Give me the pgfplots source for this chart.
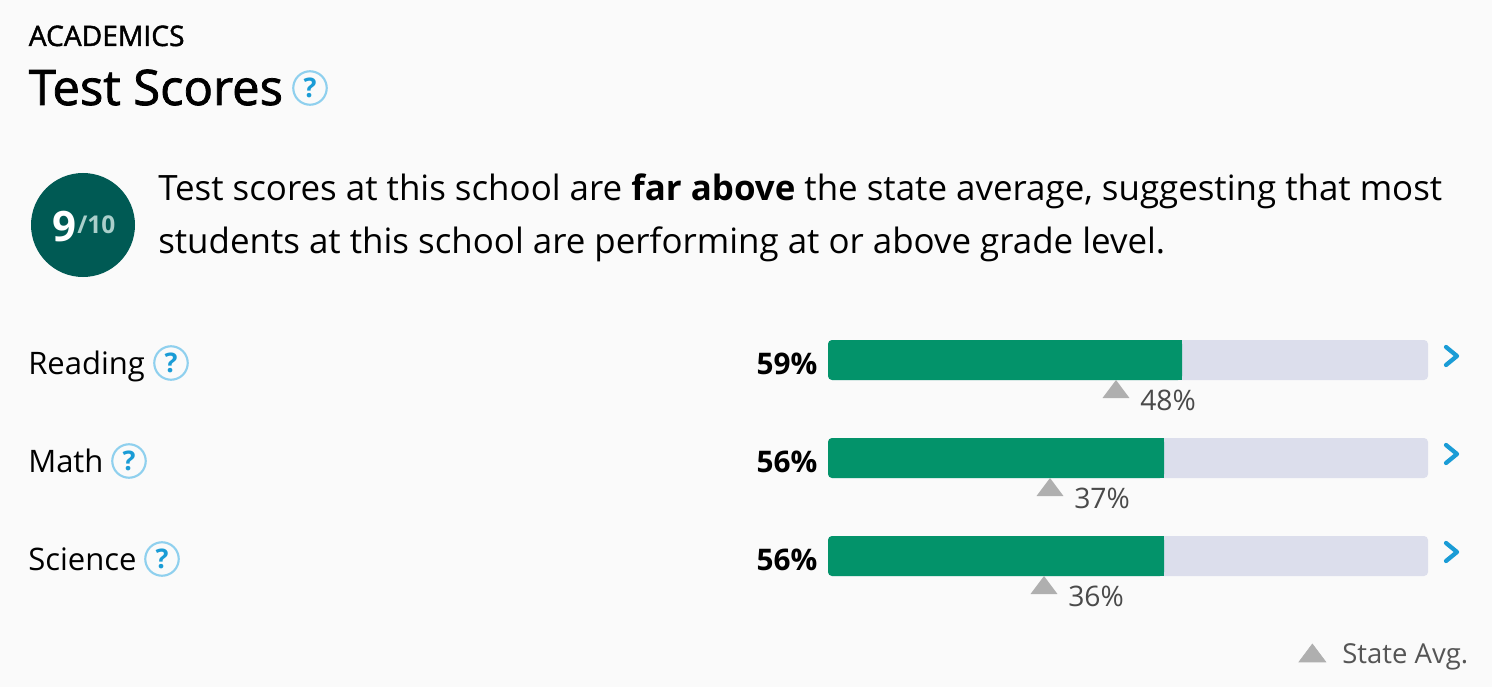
\documentclass[border=0pt]{standalone}
\usepackage{fontspec}
\setmainfont{Open Sans}
\newfontfamily\med[FakeBold=1.6]{Open Sans}
\usepackage{pgfplots}
\usepackage{pgfplotstable}
\pgfplotsset{compat=1.18}
\usetikzlibrary{calc}

\definecolor{bg}{HTML}{FAFAFA}
\definecolor{track}{HTML}{DCDEEC}
\definecolor{score}{HTML}{03936A}
\definecolor{avgmark}{HTML}{AFAFAF}
\definecolor{avgtext}{HTML}{4A4A4A}
\definecolor{legtext}{HTML}{555555}
\definecolor{badge}{HTML}{005A54}
\definecolor{badgetxt}{HTML}{AACFCB}
\definecolor{hblue}{HTML}{1A9CD6}
\definecolor{hring}{HTML}{8FD0EE}

% 1 px of the reference = 0.75pt here
\newcommand{\fs}[1]{\fontsize{\fpeval{#1*0.75}}{\fpeval{#1*0.9}}\selectfont}
\newcommand{\helpicon}[3]{%
  \draw[hring,line width=1.6pt,fill=bg] (#1,#2) circle[radius=#3*0.93];
  \node[inner sep=0,text=hblue] at (#1,#2) {\bfseries\fs{\fpeval{#3*1.5}}?};}
\newcommand{\chevron}[2]{%
  \draw[hblue,line width=3.2pt,line join=round,line cap=round]
    ($(#1,#2)+(-6,-9)$) -- ($(#1,#2)+(5,0)$) -- ($(#1,#2)+(-6,9)$);}

\pgfdeclareplotmark{avgtri}{%
  \pgfpathmoveto{\pgfqpoint{-10.1pt}{-28.5pt}}%
  \pgfpathlineto{\pgfqpoint{10.1pt}{-28.5pt}}%
  \pgfpathlineto{\pgfqpoint{0pt}{-15pt}}%
  \pgfpathclose\pgfusepathqfill}

\pgfplotstableread{
row score state
2   59    48
1   56    37
0   56    36
}\scores

\begin{document}
\begin{tikzpicture}
\fill[bg] (0,0) rectangle (1119pt,515.25pt);
\begin{axis}[
    at={(0,0)}, anchor=south west,
    scale only axis,
    width=1119pt, height=515.25pt,
    xmin=-138, xmax=110.667,
    ymin=-1.3367, ymax=5.6735,
    hide axis,
    clip=false,
    /pgf/number format/assume math mode=true,
    legend style={at={(axis description cs:0.9858,0.0466)},anchor=east,
        draw=none,fill=none,inner sep=0pt,outer sep=0pt,
        font=\fontsize{20.6}{24}\selectfont,text=legtext,
        /tikz/every even column/.style={column sep=0pt}},
    legend cell align=left,
]
% grey tracks
\addplot[xbar,bar shift=0pt,bar width=30pt,fill=track,draw=none,rounded corners=3pt,forget plot]
    coordinates {(100,2) (100,1) (100,0)};
% scores: rounded on the left, square on the right
\addplot[xbar,bar shift=0pt,bar width=30pt,fill=score,draw=none,rounded corners=3pt,forget plot]
    table[x=score,y=row] {\scores};
\addplot[score,line width=30pt,forget plot] coordinates {(10,2) (59,2)};
\addplot[score,line width=30pt,forget plot] coordinates {(10,1) (56,1)};
\addplot[score,line width=30pt,forget plot] coordinates {(10,0) (56,0)};
% score labels left of the bars
\addplot[only marks,mark=none,forget plot,point meta=explicit,
    nodes near coords={\pgfmathprintnumber{\pgfplotspointmeta}\%},
    every node near coord/.append style={anchor=base east,inner sep=0pt,
        xshift=-7.75pt,yshift=-10.5pt,text=black,font=\bfseries\fontsize{22.3}{27}\selectfont}]
    table[x expr=0,y=row,meta=score] {\scores};
% state averages
\addplot[only marks,mark=avgtri,avgmark,point meta=x,
    nodes near coords={\pgfmathprintnumber{\pgfplotspointmeta}\%},
    every node near coord/.append style={anchor=base west,inner sep=0pt,
        xshift=18pt,yshift=-38pt,text=avgtext,font=\fontsize{21.2}{24}\selectfont},
    legend image code/.code={\fill[avgmark] (2.6pt,-5.25pt) -- (22.85pt,-5.25pt) -- (12.7pt,8.25pt) -- cycle;
        \path (33pt,0pt);}]
    table[x=state,y=row] {\scores};
\addlegendentry{State Avg.}
\end{axis}

\begin{scope}[x=0.75pt,y=-0.75pt,yshift=515.25pt]
\node[anchor=base west,inner sep=0] at (28.5,46) {\med\fs{28.2}ACADEMICS};
\node[anchor=base west,inner sep=0] at (28.5,105) {\med\fs{49}Test Scores};
\helpicon{310}{88}{18}

\fill[badge] (83,225) circle[radius=52];
\node[anchor=base west,inner sep=0,text=white] at (52,241) {\bfseries\fs{42}9};
\node[anchor=base west,inner sep=0,text=badgetxt] at (77,233) {\bfseries\fs{24.5}/10};

\node[anchor=base west,inner sep=0] at (158,200)
   {\fs{34.9}Test scores at this school are {\bfseries far above} the state average, suggesting that most};
\node[anchor=base west,inner sep=0] at (158,253)
   {\fs{34.9}students at this school are performing at or above grade level.};

\node[anchor=base west,inner sep=0] at (28,374) {\fs{31}Reading};
\node[anchor=base west,inner sep=0] at (28,472) {\fs{31}Math};
\node[anchor=base west,inner sep=0] at (28,570) {\fs{31}Science};
\helpicon{171}{363}{18}
\helpicon{129}{461}{18}
\helpicon{162}{559}{18}
\chevron{1452}{356}
\chevron{1452}{454}
\chevron{1452}{552}
\end{scope}
\end{tikzpicture}
\end{document}
